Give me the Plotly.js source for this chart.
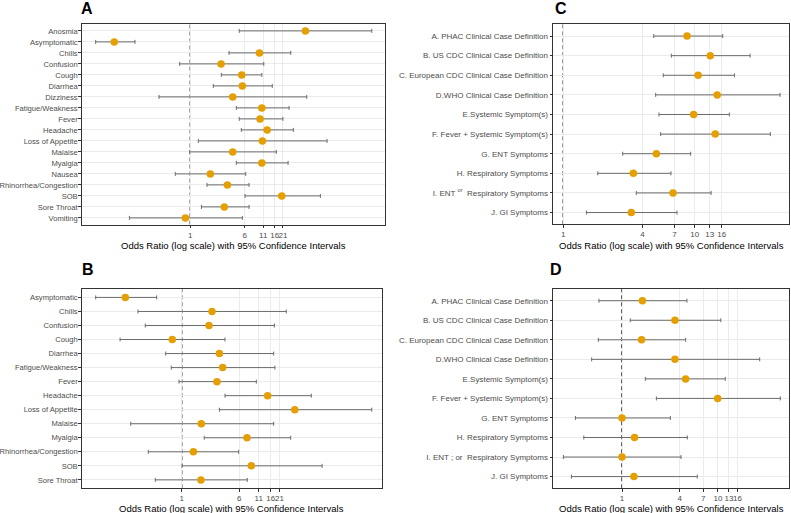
<!DOCTYPE html>
<html>
<head>
<meta charset="utf-8">
<script src="https://cdn.plot.ly/plotly-3.0.1.min.js"></script>
<style>html,body{margin:0;padding:0;background:#fff;}#chart{width:791px;height:513px;}</style>
</head>
<body>
<div id="chart"></div>
<script>
// ---- Panel A ----
const aCats = ["Anosmia","Asymptomatic","Chills","Confusion","Cough","Diarrhea","Dizziness","Fatigue/Weakness","Fever","Headache","Loss of Appetite","Malaise","Myalgia","Nausea","Rhinorrhea/Congestion","SOB","Sore Throat","Vomiting"];
const aOR = [44,0.082,9.7,2.75,5.42,5.53,4.03,10.5,9.9,12.5,10.7,4.03,10.5,1.93,3.38,20.2,3.06,0.85];
const aLo = [5.0,0.0445,3.57,0.705,2.77,2.13,0.357,4.54,5.0,5.35,1.30,0.98,4.54,0.61,1.73,6.04,1.44,0.135];
const aHi = [390,0.162,27.2,11.2,10.5,14.8,46,25.7,21,29.6,89.7,16.9,24.9,6.18,6.9,72,6.9,5.53];
// ---- Panel B ----
const bCats = ["Asymptomatic","Chills","Confusion","Cough","Diarrhea","Fatigue/Weakness","Fever","Headache","Loss of Appetite","Malaise","Myalgia","Rhinorrhea/Congestion","SOB","Sore Throat"];
const bOR = [0.173,2.57,2.34,0.746,3.23,3.58,3.0,14.5,33.7,1.84,7.63,1.44,8.73,1.82];
const bLo = [0.0689,0.257,0.322,0.147,0.608,0.724,0.92,3.85,3.23,0.205,2.02,0.354,1.01,0.44];
const bHi = [0.459,25.9,17.9,3.85,17.5,18.2,10.2,56.4,370,17.5,29.7,5.89,79,7.7];
// ---- Panel C ----
const cCats = ["A. PHAC Clinical Case Definition","B. US CDC Clinical Case Definition","C. European CDC Clinical Case Definition","D.WHO Clinical Case Definition","E.Systemic Symptom(s)","F. Fever + Systemic Symptom(s)","G. ENT Symptoms","H. Respiratory Symptoms","I. ENT <sup>or</sup>  Respiratory Symptoms","J. GI Symptoms"];
const cOR = [8.73,13.1,10.6,14.8,9.8,14.3,5.1,3.41,6.83,3.29];
const cLo = [4.87,6.63,5.76,5.04,5.34,5.5,2.83,1.83,3.59,1.5];
const cHi = [16.3,26.3,20,44.5,18.3,37.5,9.3,6.59,13.3,7.32];
// ---- Panel D ----
const dCats = ["A. PHAC Clinical Case Definition","B. US CDC Clinical Case Definition","C. European CDC Clinical Case Definition","D.WHO Clinical Case Definition","E.Systemic Symptom(s)","F. Fever + Systemic Symptom(s)","G. ENT Symptoms","H. Respiratory Symptoms","I. ENT ; or  Respiratory Symptoms","J. GI Symptoms"];
const dOR = [1.63,3.56,1.6,3.56,4.6,9.93,1.0,1.35,1.0,1.33];
const dLo = [0.575,1.22,0.566,0.483,1.75,2.28,0.327,0.4,0.245,0.297];
const dHi = [4.75,10.7,4.6,27.2,11.9,44.6,3.19,4.79,4.12,6.08];

const tickAB = [1,6,11,16,21];
const tickCD = [1,4,7,10,13,16];
const xTitle = "Odds Ratio (log scale) with 95% Confidence Intervals";

const W = 791, H = 513;
const FONT = "Liberation Sans, Arial, sans-serif";

function trace(cats, or, lo, hi, xa, ya) {
  return {
    type: "scatter", mode: "markers", x: or, y: cats, xaxis: xa, yaxis: ya,
    marker: {color: "#E69F00", size: 7.5, line: {width: 0}},
    error_x: {type: "data", symmetric: false,
      array: or.map((v,i)=>hi[i]-v), arrayminus: or.map((v,i)=>v-lo[i]),
      color: "#6b6b6b", thickness: 1, width: 2},
    hoverinfo: "none", showlegend: false, cliponaxis: false
  };
}

const data = [
  trace(aCats,aOR,aLo,aHi,"x","y"),
  trace(bCats,bOR,bLo,bHi,"x2","y2"),
  trace(cCats,cOR,cLo,cHi,"x3","y3"),
  trace(dCats,dOR,dLo,dHi,"x4","y4")
];

function xd(l,r){return [l/W, r/W];}
function yd(t,b){return [1-b/H, 1-t/H];}

function xaxis(dom, range, ticks, anchor) {
  return {domain: dom, type: "log", range: range, anchor: anchor,
    tickvals: ticks, ticktext: ticks.map(String), tickangle: 0,
    showgrid: true, gridcolor: "#ebebeb", gridwidth: 1, zeroline: false,
    showline: true, mirror: true, linecolor: "#333333", linewidth: 1,
    ticks: "outside", ticklen: 2.5, tickcolor: "#333333", tickwidth: 1,
    tickfont: {family: FONT, size: 8, color: "#4d4d4d"}, fixedrange: true};
}
function yaxis(dom, cats, anchor, fs, standoff) {
  return {domain: dom, type: "category", categoryorder: "array", categoryarray: cats,
    range: [cats.length - 1 + 0.6, -0.6], anchor: anchor,
    showgrid: true, gridcolor: "#ebebeb", gridwidth: 1, zeroline: false,
    showline: true, mirror: true, linecolor: "#333333", linewidth: 1,
    ticks: "outside", ticklen: 2.5, tickcolor: "#333333", tickwidth: 1,
    ticklabelstandoff: standoff,
    tickfont: {family: FONT, size: fs, color: "#4d4d4d"}, fixedrange: true};
}

const boxes = {
  A: {x: xd(81.7,385), y: yd(24.3,224.5)},
  B: {x: xd(81.7,382), y: yd(289,488.3)},
  C: {x: xd(553,789), y: yd(24.3,224.3)},
  D: {x: xd(553,789), y: yd(289,488.3)}
};

const layout = {
  width: W, height: H, margin: {l:0,r:0,t:0,b:0},
  paper_bgcolor: "#ffffff", plot_bgcolor: "#ffffff",
  font: {family: FONT},
  xaxis:  xaxis(boxes.A.x, [-1.551, 2.78], tickAB, "y"),
  yaxis:  yaxis(boxes.A.y, aCats, "x", 7.6, -1),
  xaxis2: xaxis(boxes.B.x, [-1.351, 2.707], tickAB, "y2"),
  yaxis2: yaxis(boxes.B.y, bCats, "x2", 7.6, -1),
  xaxis3: xaxis(boxes.C.x, [-0.078, 1.716], tickCD, "y3"),
  yaxis3: yaxis(boxes.C.y, cCats, "x3", 8, 0),
  xaxis4: xaxis(boxes.D.x, [-0.719, 1.74], tickCD, "y4"),
  yaxis4: yaxis(boxes.D.y, dCats, "x4", 8, 0),
  shapes: ["x","x2","x3","x4"].map(function(xr){
    return {type: "line", layer: "below", xref: xr, yref: (xr==="x"?"y":"y"+xr.slice(1)) + " domain",
      x0: 1, x1: 1, y0: 0, y1: 1, line: {color: "#1a1a1a", width: 1.4, dash: "4px,3px"}};
  }),
  annotations: [
    {text: "<b>A</b>", x: 87/W, y: 1-8/H},
    {text: "<b>B</b>", x: 88/W, y: 1-269/H},
    {text: "<b>C</b>", x: 561/W, y: 1-8/H},
    {text: "<b>D</b>", x: 556/W, y: 1-269/H}
  ].map(function(a){return Object.assign({xref:"paper", yref:"paper", xanchor:"center", yanchor:"middle",
    showarrow:false, font:{family:FONT, size:16, color:"#000"}}, a);}).concat(
    [["x",245.5],["x2",508],["x3",245.5],["x4",508]].map(function(p){
      return {text: xTitle, xref: p[0]+" domain", yref: "paper", x: 0.5, y: 1-p[1]/H,
        xanchor: "center", yanchor: "middle", showarrow: false,
        font: {family: FONT, size: 9.5, color: "#000"}};
    }))
};

Plotly.newPlot("chart", data, layout, {displayModeBar: false, staticPlot: true});
</script>
</body>
</html>
